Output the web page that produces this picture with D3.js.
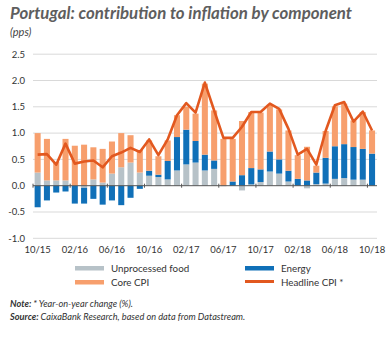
<!DOCTYPE html>
<html><head><meta charset="utf-8">
<script src="https://cdn.jsdelivr.net/npm/d3@7"></script>
<style>
body{margin:0;background:#fff;}
svg{display:block;font-family:Lato,"Open Sans",sans-serif;}
</style></head>
<body><svg id="c" width="390" height="338"></svg>
<script>
const months = ["10/15","11/15","12/15","01/16","02/16","03/16","04/16","05/16","06/16","07/16","08/16","09/16",
"10/16","11/16","12/16","01/17","02/17","03/17","04/17","05/17","06/17","07/17","08/17","09/17",
"10/17","11/17","12/17","01/18","02/18","03/18","04/18","05/18","06/18","07/18","08/18","09/18","10/18"];
const tickLabels = ["10/15","02/16","06/16","10/16","02/17","06/17","10/17","02/18","06/18","10/18"];
const yTicks = [-1.0,-0.5,0.0,0.5,1.0,1.5,2.0,2.5];
const food = [0.25,0.10,0.10,0.10,0.00,-0.04,0.12,0.06,0.23,0.35,0.44,0.25,0.19,0.165,0.12,0.29,0.405,0.44,0.29,0.32,-0.01,0.00,-0.09,0.025,0.07,0.27,0.23,0.08,0.00,-0.05,0.03,0.04,0.13,0.145,0.115,0.115,0.00];
const energy = [-0.41,-0.28,-0.13,-0.11,-0.34,-0.30,-0.25,-0.36,-0.28,-0.37,-0.23,-0.06,0.095,0.045,0.35,0.635,0.66,0.41,0.30,0.16,0.00,0.08,0.20,0.31,0.24,0.38,0.27,0.205,0.13,0.10,0.22,0.49,0.62,0.645,0.62,0.585,0.61];
const core = [0.75,0.79,0.35,0.79,0.76,0.78,0.61,0.64,0.61,0.65,0.52,0.43,0.575,0.35,0.39,0.415,0.435,0.52,1.35,0.95,0.89,0.81,1.03,1.065,1.08,0.89,0.95,0.765,0.45,0.64,0.13,0.51,0.76,0.77,0.505,0.70,0.44];
const headline = [0.59,0.60,0.40,0.80,0.42,0.46,0.48,0.35,0.56,0.63,0.72,0.64,0.88,0.58,0.88,1.34,1.57,1.39,1.96,1.43,0.91,0.91,1.12,1.40,1.40,1.56,1.46,1.08,0.59,0.70,0.40,1.04,1.53,1.59,1.22,1.41,1.05];

const colors = {food:"#b7c2c8", energy:"#1070b8", core:"#f79f6d", headline:"#e2581f"};

const svg = d3.select("#c");
const x = d3.scaleBand().domain(months).range([33, 376.7]).paddingInner(0.35).paddingOuter(0.175);
const y = d3.scaleLinear().domain([-1, 2.5]).range([238.3, 54.2]);

// title
svg.append("text").attr("x",10).attr("y",19).attr("font-size",16.2).attr("font-weight","bold")
  .attr("font-style","italic").attr("fill","#5e5e5e").attr("textLength",342).attr("lengthAdjust","spacingAndGlyphs")
  .text("Portugal: contribution to inflation by component");
svg.append("text").attr("x",10).attr("y",36).attr("font-size",11).attr("font-style","italic")
  .attr("fill","#444").text("(pps)");

// grid
svg.append("g").selectAll("line").data(yTicks.filter(d=>d!==0)).join("line")
  .attr("x1",33).attr("x2",377).attr("y1",d=>y(d)).attr("y2",d=>y(d))
  .attr("stroke","#d9d9d9").attr("stroke-width",1);
svg.append("g").selectAll("text").data(yTicks).join("text")
  .attr("x",25).attr("y",d=>y(d)+3.3).attr("text-anchor","end").attr("font-size",9.5).attr("fill","#333")
  .text(d=>d.toFixed(1));

// stacked bars
const rows = months.map((m,i)=>({m, food:food[i], energy:energy[i], core:core[i]}));
const stack = d3.stack().keys(["food","energy","core"]).offset(d3.stackOffsetDiverging);
const series = stack(rows);
svg.append("g").selectAll("g").data(series).join("g").attr("fill",s=>colors[s.key])
  .selectAll("rect").data(s=>s).join("rect")
  .attr("x",d=>x(d.data.m)).attr("width",x.bandwidth())
  .attr("y",d=>y(Math.max(d[0],d[1]))).attr("height",d=>Math.abs(y(d[0])-y(d[1])));

// zero line
svg.append("line").attr("x1",33).attr("x2",377).attr("y1",y(0)).attr("y2",y(0))
  .attr("stroke","#555").attr("stroke-width",1);
svg.append("g").selectAll("line").data(tickLabels).join("line")
  .attr("x1",d=>x(d)-x.step()*x.paddingInner()/2).attr("x2",d=>x(d)-x.step()*x.paddingInner()/2)
  .attr("y1",y(0)-2).attr("y2",y(0)+2).attr("stroke","#555");

// headline line
const line = d3.line().x((d,i)=>x(months[i])+x.bandwidth()/2).y(d=>y(d));
svg.append("path").datum(headline).attr("d",line).attr("fill","none")
  .attr("stroke",colors.headline).attr("stroke-width",2.6).attr("stroke-linejoin","round");

// x labels
svg.append("g").selectAll("text").data(tickLabels).join("text")
  .attr("x",d=>x(d)+x.bandwidth()/2).attr("y",253).attr("text-anchor","middle")
  .attr("font-size",9.5).attr("fill","#333").text(d=>d);

// legend
const legend = [
  {k:"food", label:"Unprocessed food", x:75, y:268},
  {k:"energy", label:"Energy", x:245, y:268},
  {k:"core", label:"Core CPI", x:75, y:282},
  {k:"headline", label:"Headline CPI *", x:245, y:282}
];
const lg = svg.append("g").selectAll("g").data(legend).join("g");
lg.append("rect").attr("x",d=>d.x).attr("y",d=>d.y-2).attr("width",29).attr("height",d=>d.k==="headline"?3:4.5)
  .attr("fill",d=>colors[d.k]);
lg.append("text").attr("x",d=>d.x+36).attr("y",d=>d.y+3.5).attr("font-size",9.8).attr("fill","#333").text(d=>d.label);

// notes
const n1 = svg.append("text").attr("x",10).attr("y",307).attr("font-size",9.2).attr("font-style","italic").attr("fill","#333");
n1.append("tspan").attr("font-weight","bold").text("Note: ");
n1.append("tspan").text("* Year-on-year change (%).");
const n2 = svg.append("text").attr("x",10).attr("y",320).attr("font-size",9.2).attr("font-style","italic").attr("fill","#333");
n2.append("tspan").attr("font-weight","bold").text("Source: ");
n2.append("tspan").text("CaixaBank Research, based on data from Datastream.");
</script></body></html>
